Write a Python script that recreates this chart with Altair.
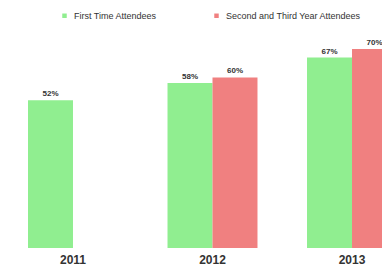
import altair as alt
import pandas as pd

years = ["2011", "2012", "2013"]
first_time = [52, 58, 67]
returning = [None, 60, 70]
series = ["First Time Attendees", "Second and Third Year Attendees"]
colors = ["#90EE90", "#F08080"]

rows = []
for y, a, b in zip(years, first_time, returning):
    rows.append({"year": y, "group": series[0], "value": a})
    if b is not None:
        rows.append({"year": y, "group": series[1], "value": b})
df = pd.DataFrame(rows)
df["label"] = df["value"].astype(int).astype(str) + "%"

base = alt.Chart(df).encode(
    x=alt.X(
        "year:N",
        scale=alt.Scale(paddingInner=0.355, paddingOuter=0, range=[0, 369]),
        axis=alt.Axis(
            title=None, labelAngle=0, ticks=False, domain=False,
            labelFontWeight="bold", labelFontSize=12, labelColor="#333333",
            labelPadding=6, labelFont="Liberation Sans",
        ),
    ),
    xOffset=alt.XOffset("group:N", scale=alt.Scale(domain=series)),
    y=alt.Y("value:Q", scale=alt.Scale(domain=[0, 70]), axis=None),
)

bars = base.mark_bar().encode(
    color=alt.Color(
        "group:N",
        scale=alt.Scale(domain=series, range=colors),
        legend=alt.Legend(
            title=None, orient="none", direction="horizontal",
            legendX=32, legendY=-38, labelFontSize=9, labelFont="Liberation Sans",
            labelColor="#333333", symbolType="square", symbolSize=20,
            columnPadding=55, labelOffset=5,
        ),
    )
)

text = base.mark_text(dy=-6, fontSize=8, fontWeight="bold", font="Liberation Sans", color="#333333").encode(
    text="label:N"
)

chart = (bars + text).properties(
    width=354, height=199,
    padding={"left": 20, "top": 41, "right": 0, "bottom": 25},
    autosize=alt.AutoSizeParams(type="none"),
).configure_view(stroke=None)

chart.save("out.html", embed_options={"renderer": "svg", "actions": False})
